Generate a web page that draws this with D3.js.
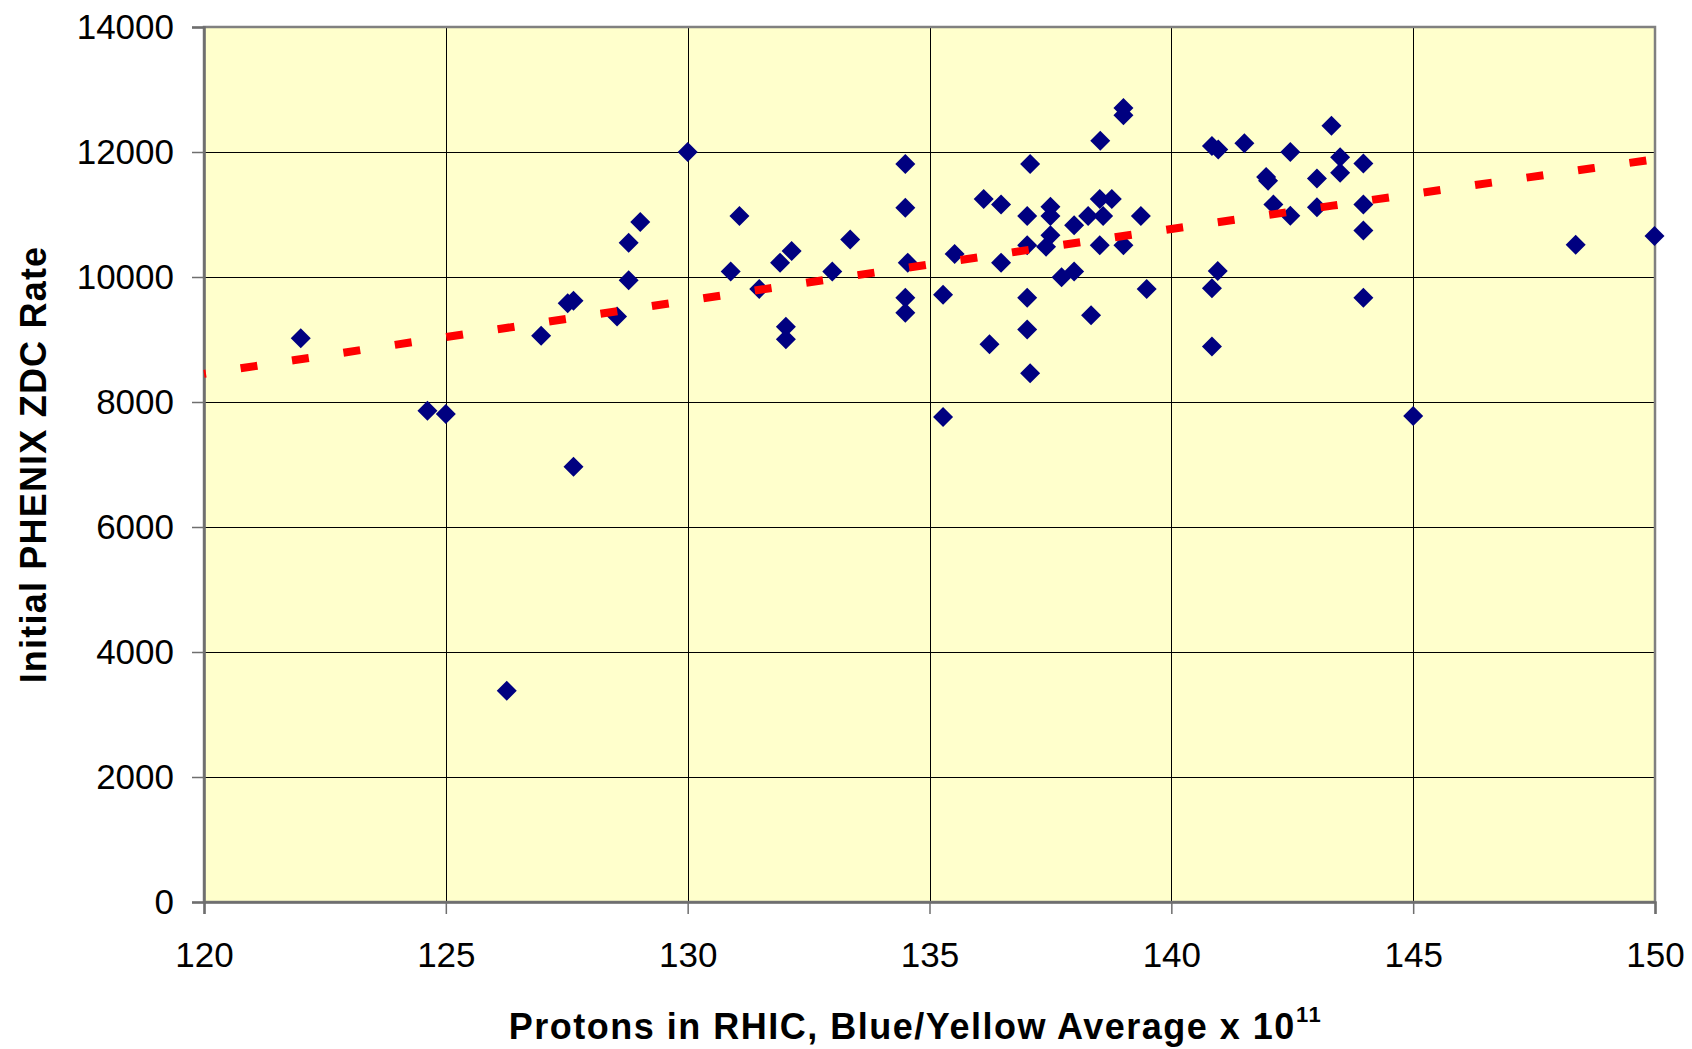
<!DOCTYPE html>
<html>
<head>
<meta charset="utf-8">
<script src="https://cdn.jsdelivr.net/npm/d3@7"></script>
<style>
  body { margin: 0; background: #ffffff; }
  svg { display: block; }
</style>
</head>
<body>
<svg id="chart" width="1692" height="1049"></svg>
<script>
// Protons in RHIC (Blue/Yellow average, x 1e11) for each fill
const protons = [
  122.0, 130.0, 129.02, 128.78, 128.78, 127.52, 127.64, 128.54, 126.97, 124.62,
  125.0, 127.64, 126.26, 131.07, 130.89, 131.48, 131.91, 132.15, 132.03, 132.03,
  132.99, 133.36, 134.5, 134.5, 134.55, 134.5, 134.5, 135.28, 135.28, 135.52,
  136.12, 136.48, 136.48, 136.24, 137.08, 137.02, 137.02, 137.02, 137.02, 137.08,
  137.5, 137.5, 137.5, 137.41, 137.99, 137.73, 137.99, 138.34, 138.28, 138.52,
  138.59, 138.52, 138.53, 138.77, 139.01, 139.01, 139.01, 139.37, 139.49, 140.84,
  140.97, 141.51, 142.46, 143.31, 143.49, 143.97, 141.96, 142.0, 143.01, 143.49,
  142.11, 142.46, 143.01, 143.97, 143.97, 140.96, 140.84, 140.84, 143.97, 145.0,
  148.36, 149.99
];

// Initial PHENIX ZDC rate for the same fills
const zdcRate = [
  9020, 12000, 10880, 10550, 9950, 9580, 9620, 9370, 9060, 7860,
  7810, 6965, 3380, 10975, 10090, 9810, 10230, 10415, 9205, 9005,
  10090, 10600, 11810, 11110, 10230, 9670, 9430, 9715, 7760, 10370,
  11250, 11160, 10230, 8925, 11810, 10975, 10510, 9670, 9160, 8460,
  11125, 10975, 10670, 10485, 10830, 9995, 10090, 9390, 10975, 11250,
  10975, 10510, 12180, 11250, 12705, 12590, 10510, 10975, 9810, 12095,
  12040, 12140, 12000, 12420, 11915, 11815, 11600, 11540, 11575, 11670,
  11160, 10980, 11115, 11160, 10745, 10095, 9820, 8890, 9670, 7775,
  10515, 10655
];

// Trend line through the cloud
const trendX = [120, 135, 150];
const trendY = [8450, 10200, 11885];

// Axis ticks
const xTicks = [120, 125, 130, 135, 140, 145, 150];
const yTicks = [0, 2000, 4000, 6000, 8000, 10000, 12000, 14000];

const xTitle = "Protons in RHIC, Blue/Yellow Average x 10";
const xTitleExp = "11";
const yTitle = "Initial PHENIX ZDC Rate";

const margin = { left: 204, top: 27, right: 37, bottom: 147 };
const W = 1692, H = 1049;
const plotW = W - margin.left - margin.right;
const plotH = H - margin.top - margin.bottom;

const svg = d3.select("#chart");
const font = "'Liberation Sans', Arial, Helvetica, sans-serif";

const x = d3.scaleLinear().domain([120, 150]).range([0, plotW]);
const y = d3.scaleLinear().domain([0, 14000]).range([plotH, 0]);

const g = svg.append("g").attr("transform", `translate(${margin.left},${margin.top})`);

// plot background
g.append("rect")
  .attr("width", plotW).attr("height", plotH)
  .attr("fill", "#ffffcc");

// gridlines
g.append("g")
  .selectAll("line.hgrid")
  .data(yTicks.filter(d => d > 0 && d < 14000))
  .join("line")
  .attr("x1", 0).attr("x2", plotW)
  .attr("y1", d => Math.round(y(d)) + 0.5).attr("y2", d => Math.round(y(d)) + 0.5)
  .attr("stroke", "#000").attr("stroke-width", 1);

g.append("g")
  .selectAll("line.vgrid")
  .data(xTicks.filter(d => d > 120 && d < 150))
  .join("line")
  .attr("y1", 0).attr("y2", plotH)
  .attr("x1", d => Math.round(x(d)) + 0.5).attr("x2", d => Math.round(x(d)) + 0.5)
  .attr("stroke", "#000").attr("stroke-width", 1);

// plot frame
g.append("rect")
  .attr("width", plotW).attr("height", plotH)
  .attr("fill", "none").attr("stroke", "#808080").attr("stroke-width", 2.5);

// axes
const yAxis = d3.axisLeft(y).tickValues(yTicks).tickSize(12).tickPadding(18).tickFormat(d3.format("d"));
const xAxis = d3.axisBottom(x).tickValues(xTicks).tickSize(12).tickPadding(28).tickFormat(d3.format("d"));

const ya = g.append("g").call(yAxis);
const xa = g.append("g").attr("transform", `translate(0,${plotH})`).call(xAxis);

[ya, xa].forEach(a => {
  a.select(".domain").attr("stroke", "#6e6e6e").attr("stroke-width", 2.5);
  a.selectAll(".tick line").attr("stroke", "#6e6e6e").attr("stroke-width", 1.5);
  a.selectAll(".tick text")
    .attr("font-family", font).attr("font-size", 35).attr("fill", "#000");
});
xa.selectAll(".tick text").attr("dy", "0.71em");

// diamond markers
const diamond = "M0,-10L10,0L0,10L-10,0Z";
g.append("g")
  .selectAll("path")
  .data(protons.map((p, i) => [p, zdcRate[i]]))
  .join("path")
  .attr("d", diamond)
  .attr("transform", d => `translate(${x(d[0])},${y(d[1])})`)
  .attr("fill", "#000080");

// dashed trend line
const line = d3.line().x(d => x(d[0])).y(d => y(d[1])).curve(d3.curveNatural);
g.append("path")
  .datum(trendX.map((v, i) => [v, trendY[i]]))
  .attr("d", line)
  .attr("fill", "none")
  .attr("stroke", "#ff0000")
  .attr("stroke-width", 8)
  .attr("stroke-dasharray", "17 35")
  .attr("stroke-dashoffset", 15);

// axis titles
const xt = svg.append("text")
  .attr("x", margin.left + plotW / 2 - 14)
  .attr("y", 1039)
  .attr("text-anchor", "middle")
  .attr("font-family", font).attr("font-weight", "bold")
  .attr("font-size", 36).attr("letter-spacing", 1.5)
  .attr("fill", "#000");
xt.append("tspan").text(xTitle);
xt.append("tspan").attr("font-size", 22).attr("dy", -17).text(xTitleExp);

svg.append("text")
  .attr("transform", `translate(46,${margin.top + plotH / 2}) rotate(-90)`)
  .attr("text-anchor", "middle")
  .attr("font-family", font).attr("font-weight", "bold")
  .attr("font-size", 36).attr("letter-spacing", 1.2)
  .attr("fill", "#000")
  .text(yTitle);
</script>
</body>
</html>
